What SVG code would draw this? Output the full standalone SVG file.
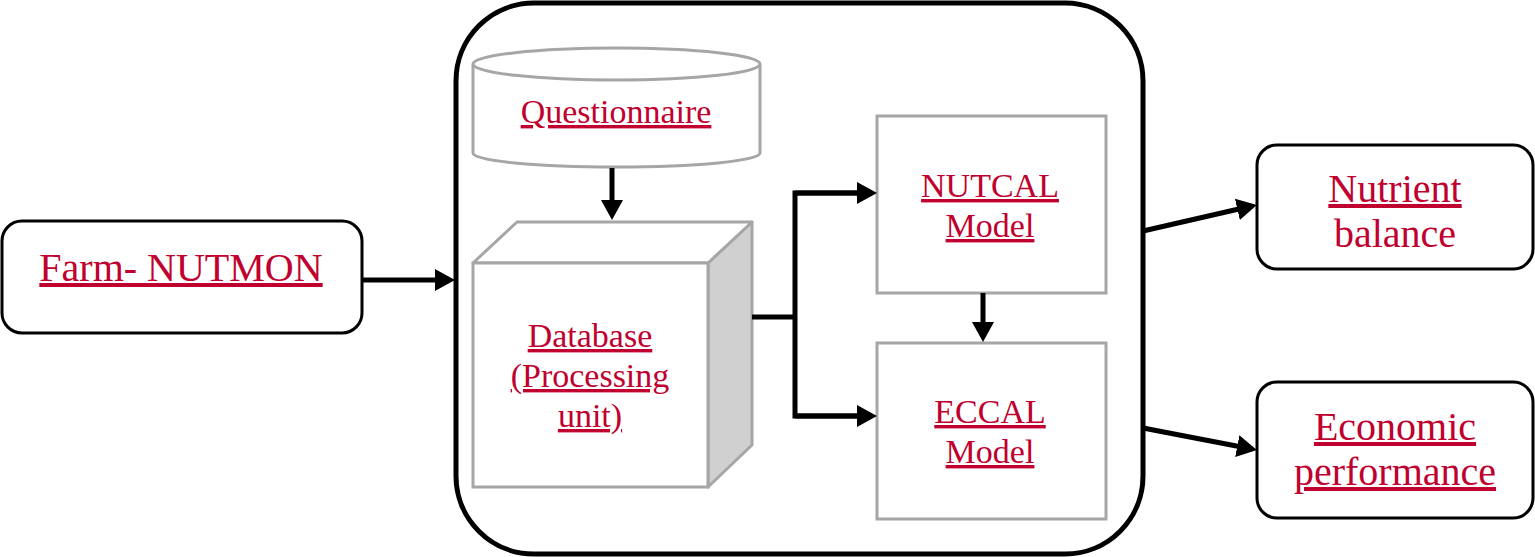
<svg xmlns="http://www.w3.org/2000/svg" width="1535" height="557" viewBox="0 0 1535 557">
<defs>
<style>
text{font-family:"Liberation Serif","Times New Roman",serif}
.rb{fill:#fff;stroke:#000;stroke-width:3}
.gb{fill:#fff;stroke:#a6a6a6;stroke-width:3}
.lbl{fill:#c0002e;text-anchor:middle}
.ul{text-decoration:underline}
.c{fill:none;stroke:#000;stroke-width:5}
</style>
<marker id="ah" markerWidth="5" markerHeight="5" refX="3" refY="2.2" orient="auto" markerUnits="strokeWidth">
<path d="M0,0 L4,2.2 L0,4.4 Z" fill="#000"/>
</marker>
</defs>
<rect width="1535" height="557" fill="#fff"/>
<g id="outer">
<rect x="456" y="3" width="687" height="551" rx="78" ry="78" fill="#fff" stroke="#000" stroke-width="5"/>
</g>
<g id="farm">
<rect class="rb" x="2" y="221" width="360" height="112" rx="20"/>
<text class="lbl ul" x="181" y="281" font-size="40">Farm- NUTMON</text>
</g>
<g id="questionnaire">
<path class="gb" d="M473,64 L473,153 A143.5,14 0 0 0 760,153 L760,64"/>
<ellipse class="gb" cx="616.5" cy="64" rx="143.5" ry="16"/>
<text class="lbl ul" x="616" y="123" font-size="34">Questionnaire</text>
</g>
<g id="database">
<path d="M708,263 L752,222 L752,445 L708,487 Z" fill="#d0d0d0" stroke="#a6a6a6" stroke-width="3" stroke-linejoin="round"/>
<path d="M473,263 L517,222 L752,222 L708,263 Z" fill="#fff" stroke="#a6a6a6" stroke-width="3" stroke-linejoin="round"/>
<rect class="gb" x="473" y="263" width="235" height="224"/>
<text class="lbl ul" x="590" y="347" font-size="34">Database</text>
<text class="lbl ul" x="590" y="387" font-size="34">(Processing</text>
<text class="lbl ul" x="590" y="427" font-size="34">unit)</text>
</g>
<g id="nutcal">
<rect class="gb" x="877" y="116" width="229" height="177"/>
<text class="lbl ul" x="990" y="197" font-size="34">NUTCAL</text>
<text class="lbl ul" x="990" y="237" font-size="34">Model</text>
</g>
<g id="eccal">
<rect class="gb" x="877" y="343" width="229" height="176"/>
<text class="lbl ul" x="990" y="423" font-size="34">ECCAL</text>
<text class="lbl ul" x="990" y="463" font-size="34">Model</text>
</g>
<g id="nutrient">
<rect class="rb" x="1257" y="145" width="276" height="124" rx="20"/>
<text class="lbl ul" x="1395" y="202" font-size="40">Nutrient</text>
<text class="lbl" x="1395" y="247" font-size="40">balance</text>
</g>
<g id="economic">
<rect class="rb" x="1257" y="382" width="276" height="136" rx="20"/>
<text class="lbl ul" x="1395" y="440" font-size="40">Economic</text>
<text class="lbl ul" x="1395" y="485" font-size="40">performance</text>
</g>
<g id="connectors">
<path class="c" d="M362,280 L450,280" marker-end="url(#ah)"/>
<path class="c" d="M612,168 L612,215" marker-end="url(#ah)"/>
<path class="c" d="M752,317 L795,317"/>
<path class="c" d="M872,193 L795,193 L795,416 L872,416"/>
<path class="c" d="M795,193 L872,193" marker-end="url(#ah)"/>
<path class="c" d="M795,416 L872,416" marker-end="url(#ah)"/>
<path class="c" d="M983,293 L983,337" marker-end="url(#ah)"/>
<path class="c" d="M1143,231 L1252,206" marker-end="url(#ah)"/>
<path class="c" d="M1143,428 L1252,449" marker-end="url(#ah)"/>
</g>
</svg>
